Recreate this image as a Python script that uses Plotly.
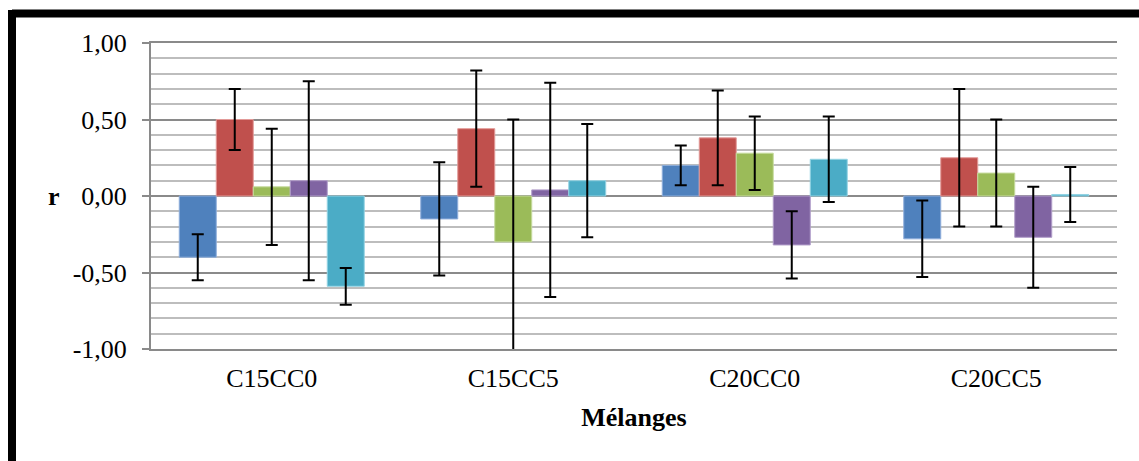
import plotly.graph_objects as go

# Mixtures on the category axis
categories = ["C15CC0", "C15CC5", "C20CC0", "C20CC5"]

# Correlation coefficient r per series, with its symmetric error
series_names = ["Série 1", "Série 2", "Série 3", "Série 4", "Série 5"]
r_s1 = [-0.40, -0.15, 0.20, -0.28]
r_s2 = [0.50, 0.44, 0.38, 0.25]
r_s3 = [0.06, -0.30, 0.28, 0.15]
r_s4 = [0.10, 0.04, -0.32, -0.27]
r_s5 = [-0.59, 0.10, 0.24, 0.01]

err_s1 = [0.15, 0.37, 0.13, 0.25]
err_s2 = [0.20, 0.38, 0.31, 0.45]
err_s3 = [0.38, 0.80, 0.24, 0.35]
err_s4 = [0.65, 0.70, 0.22, 0.33]
err_s5 = [0.12, 0.37, 0.28, 0.18]

# y-axis tick positions and their labels (comma decimals, plain hyphen)
y_tickvals = [-1.0, -0.5, 0.0, 0.5, 1.0]
y_ticktext = ["-1,00", "-0,50", "0,00", "0,50", "1,00"]

values = [r_s1, r_s2, r_s3, r_s4, r_s5]
errors = [err_s1, err_s2, err_s3, err_s4, err_s5]
fills = ["#4F81BD", "#C0504D", "#9BBB59", "#8064A2", "#4BACC6"]
edges = ["#8FAEDB", "#E29A98", "#C6DB9E", "#B09CC9", "#93D3E3"]

FONT = "Liberation Serif, Times New Roman, serif"
W, H = 1139, 461
ML, MR, MT, MB = 151, 22, 43, 112
PW, PH = W - ML - MR, H - MT - MB


def px_x(px):
    return (px - ML) / PW


def px_y(py):
    return (H - MB - py) / PH


fig = go.Figure()
for name, vals, errs, fc, ec in zip(series_names, values, errors, fills, edges):
    fig.add_trace(go.Bar(
        x=categories, y=vals, name=name,
        marker=dict(color=fc, line=dict(color=ec, width=1)),
        error_y=dict(type="data", array=errs, visible=True,
                     color="black", thickness=2, width=6),
    ))

fig.update_layout(
    width=W, height=H,
    margin=dict(l=ML, r=MR, t=MT, b=MB, pad=0),
    paper_bgcolor="white", plot_bgcolor="white",
    barmode="group", bargap=0.234, bargroupgap=0,
    showlegend=False,
    font=dict(family=FONT, size=26, color="black"),
    xaxis=dict(
        showgrid=False, ticks="", showline=True, mirror=True,
        linecolor="#8a8a8a", linewidth=2,
        ticklabelstandoff=5,
        tickfont=dict(family=FONT, size=26, color="black"),
        title=dict(text="<b>Mélanges</b>", font=dict(family=FONT, size=26),
                   standoff=16),
    ),
    yaxis=dict(
        range=[-1, 1], tickmode="array",
        tickvals=y_tickvals, ticktext=y_ticktext,
        showgrid=True, gridcolor="#8a8a8a", gridwidth=2,
        zeroline=True, zerolinecolor="#8a8a8a", zerolinewidth=2,
        showline=True, linecolor="#8a8a8a", linewidth=2,
        ticks="outside", ticklen=7, tickwidth=2, tickcolor="#8a8a8a",
        ticklabelstandoff=10,
        tickfont=dict(family=FONT, size=26, color="black"),
        minor=dict(dtick=0.1, showgrid=True, gridcolor="#bdbdbd",
                   gridwidth=2, ticks=""),
    ),
    annotations=[dict(
        text="<b>r</b>", xref="paper", yref="y", x=px_x(54), y=0,
        xanchor="center", yanchor="middle", showarrow=False,
        font=dict(family=FONT, size=26, color="black"),
    )],
    shapes=[
        # heavy black frame around the chart area (left and top edges visible)
        dict(type="line", xref="paper", yref="paper",
             x0=px_x(12), x1=px_x(W + 20), y0=px_y(13.5), y1=px_y(13.5),
             line=dict(color="black", width=8)),
        dict(type="line", xref="paper", yref="paper",
             x0=px_x(12), x1=px_x(12), y0=px_y(10), y1=px_y(H + 20),
             line=dict(color="black", width=8)),
    ],
)

fig.write_html("out.html")
